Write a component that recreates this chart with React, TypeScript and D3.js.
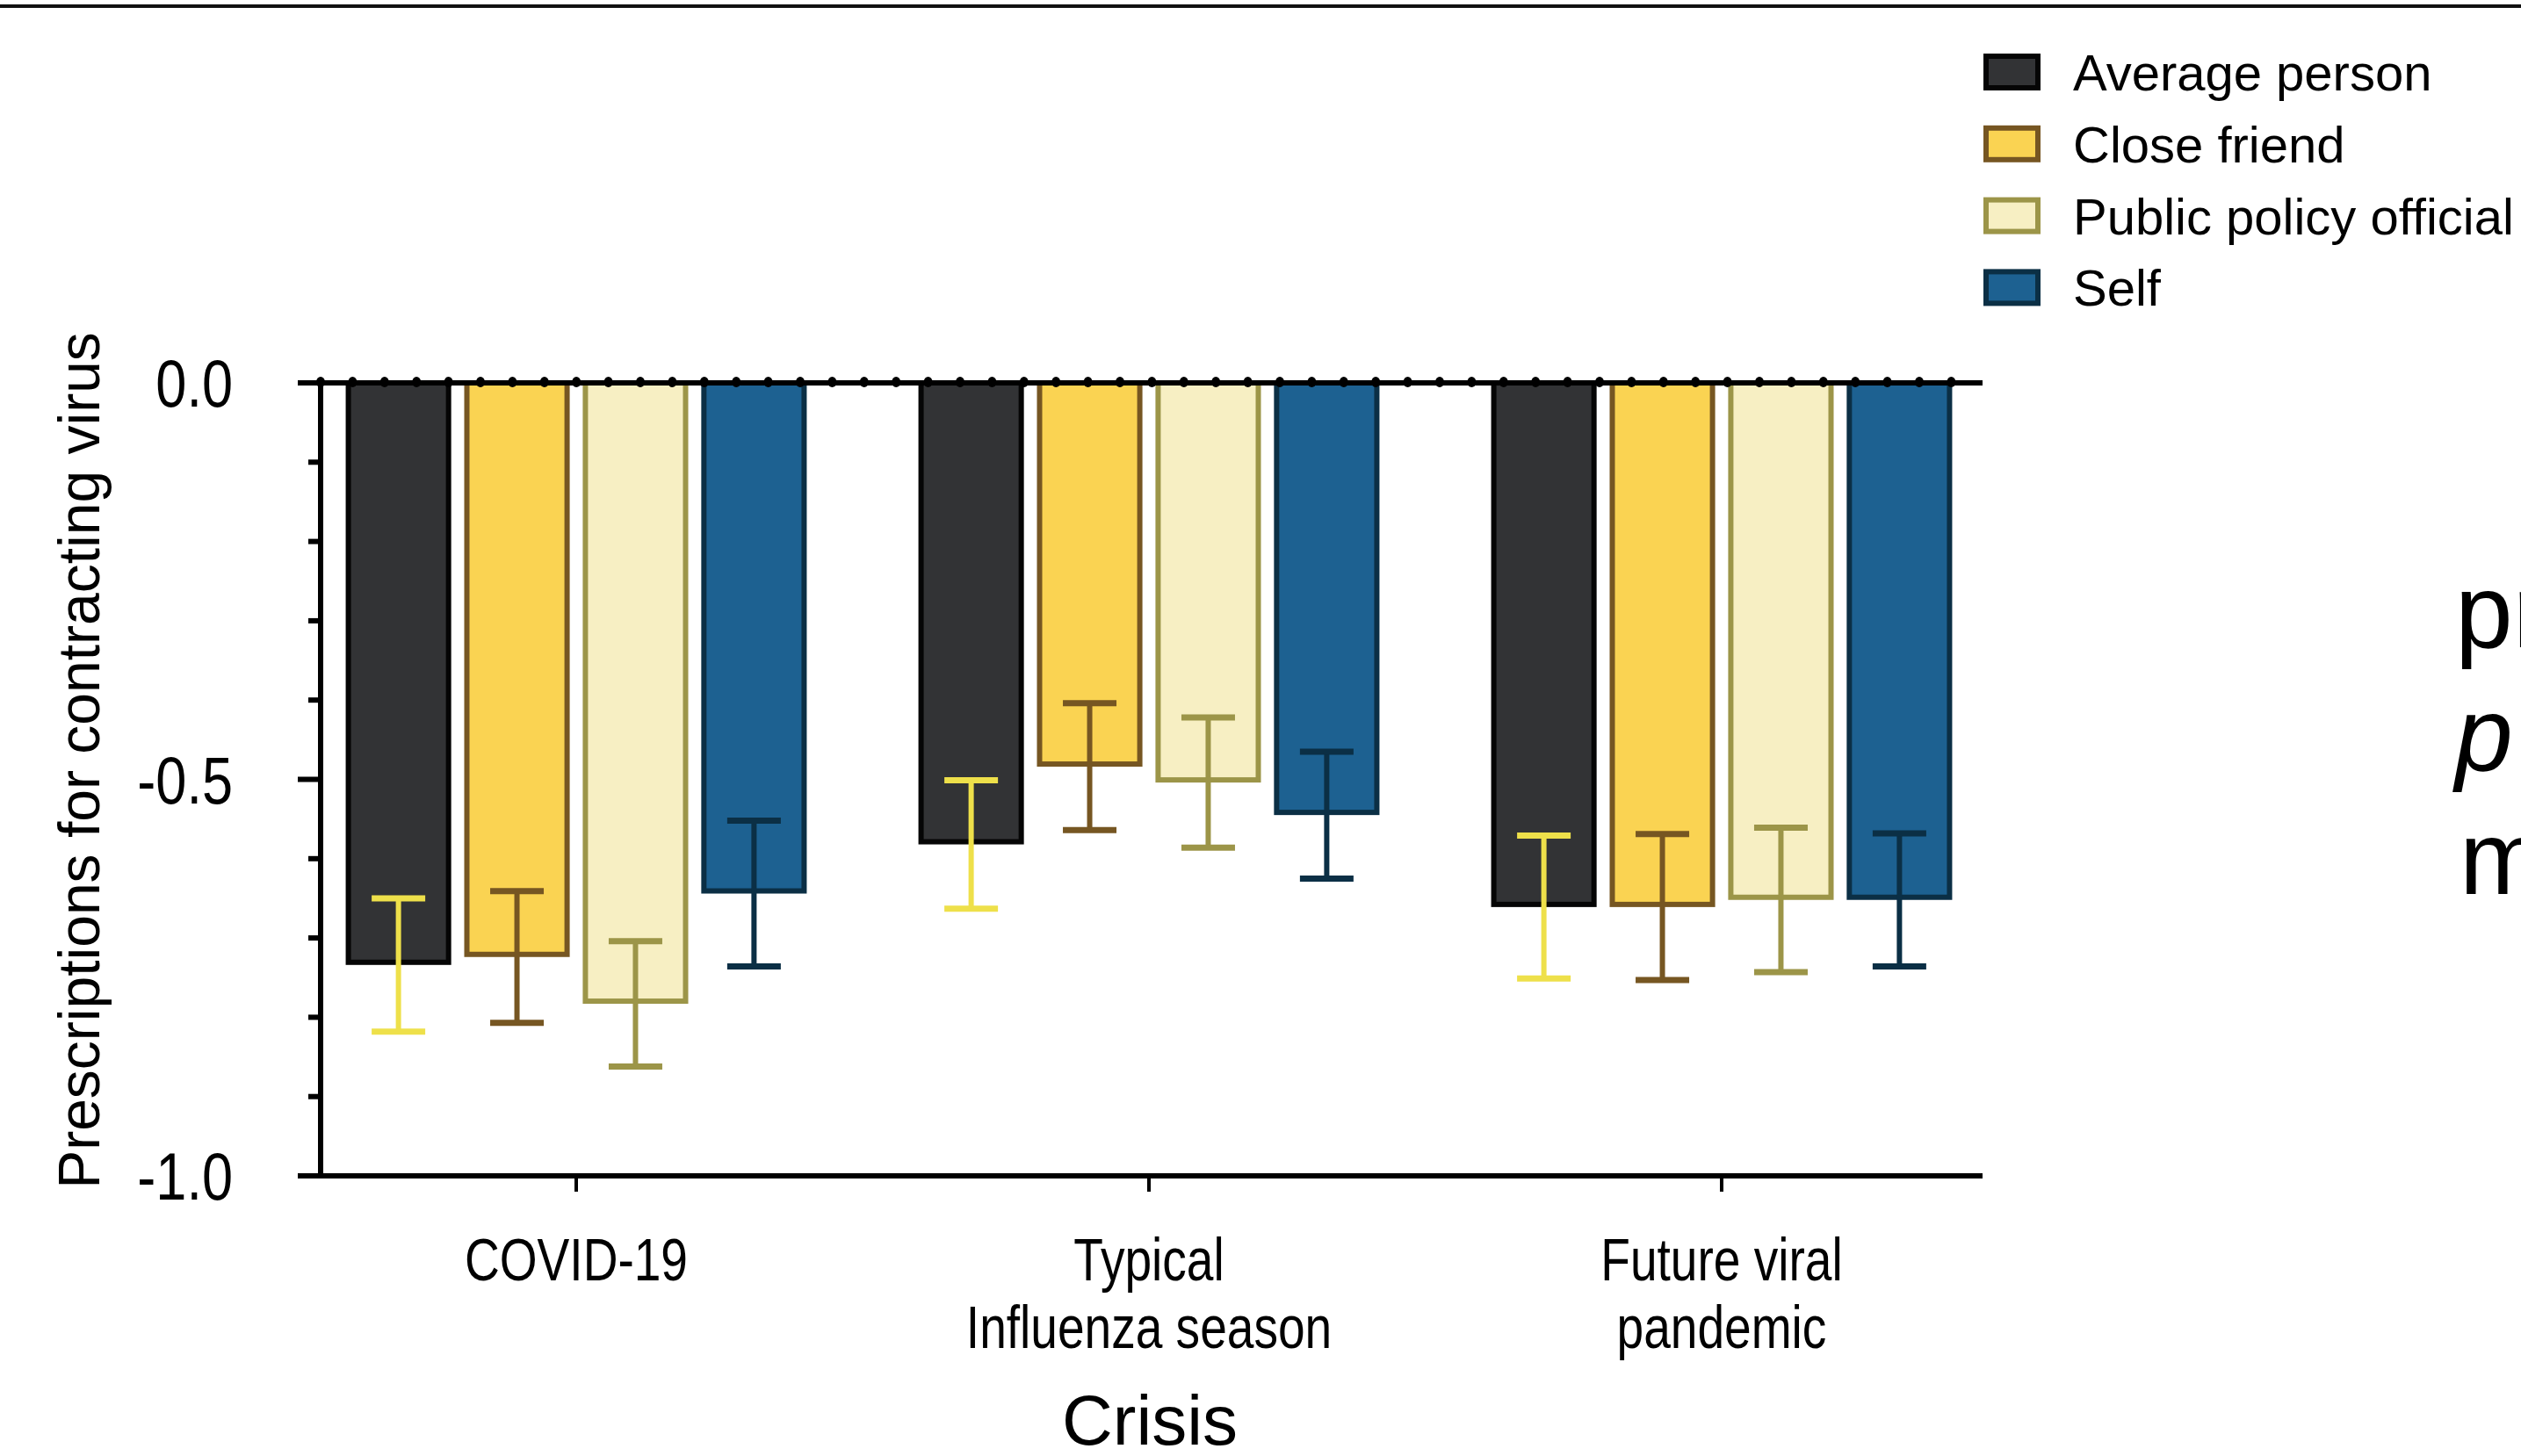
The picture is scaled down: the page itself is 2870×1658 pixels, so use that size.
import React from 'react';
import * as d3 from 'd3';

const W = 2870;
const H = 1658;

// crisis categories (x axis)
const categories = ['COVID-19', 'Typical|Influenza season', 'Future viral|pandemic'];
const seriesNames = ['Average person', 'Close friend', 'Public policy official', 'Self'];

// means per crisis, one array per target
const averagePerson = [-0.734, -0.582, -0.661];
const closeFriend = [-0.724, -0.484, -0.661];
const publicOfficial = [-0.783, -0.504, -0.652];
const self = [-0.644, -0.545, -0.652];

// error bar half-lengths
const averagePersonErr = [0.084, 0.081, 0.09];
const closeFriendErr = [0.083, 0.08, 0.092];
const publicOfficialErr = [0.079, 0.082, 0.091];
const selfErr = [0.092, 0.08, 0.084];

const yTickValues = [0, -0.5, -1.0];
const yTickLabels = ['0.0', '-0.5', '-1.0'];
const yMinorValues = [-0.1, -0.2, -0.3, -0.4, -0.6, -0.7, -0.8, -0.9];

const fills = ['#323335', '#FAD352', '#F7EFC3', '#1D6191'];
const strokes = ['#050505', '#765622', '#9C9548', '#0B2F45'];
const errColors = ['#EEE04A', '#765622', '#9C9548', '#0B2F45'];

const FONT = '"Liberation Sans", Arial, Helvetica, sans-serif';

const means = [averagePerson, closeFriend, publicOfficial, self];
const errs = [averagePersonErr, closeFriendErr, publicOfficialErr, selfErr];

const axisX = 365;
const axisLeft = 339;
const axisRight = 2257;
const lw = 6;

const App = () => {
  const y = d3.scaleLinear().domain([-1, 0]).range([1339, 436]);
  const x0 = d3.scaleBand().domain(categories).range([330, 2286]).paddingInner(0.195).paddingOuter(0.0975);
  const x1 = d3.scaleBand().domain(seriesNames).range([0, x0.bandwidth()]).paddingInner(0.11);
  const bw = x1.bandwidth();
  const dots = d3.range(axisX, 2240, 36.4);
  const capW = 61;

  return (
    <svg width={W} height={H} style={{ position: 'fixed', left: 0, top: 0, background: '#fff' }} fontFamily={FONT}>
      <rect width={W} height={H} fill="#fff" />
      {/* panel border at top */}
      <line x1={0} x2={W} y1={7} y2={7} stroke="#111" strokeWidth={4} />

      {/* bars */}
      {categories.map((c, ci) =>
        seriesNames.map((s, si) => {
          const v = means[si][ci];
          const bx = (x0(c) as number) + (x1(s) as number);
          return (
            <rect key={c + s} x={bx + lw / 2} y={y(0)} width={bw - lw} height={y(v) - y(0) - lw / 2}
              fill={fills[si]} stroke={strokes[si]} strokeWidth={lw} />
          );
        })
      )}

      {/* error bars */}
      {categories.map((c, ci) =>
        seriesNames.map((s, si) => {
          const v = means[si][ci];
          const e = errs[si][ci];
          const cx = (x0(c) as number) + (x1(s) as number) + bw / 2;
          const top = y(v + e);
          const bot = y(v - e);
          return (
            <g key={'e' + c + s} stroke={errColors[si]}>
              <line x1={cx} x2={cx} y1={top} y2={bot} strokeWidth={6} />
              <line x1={cx - capW / 2} x2={cx + capW / 2} y1={top} y2={top} strokeWidth={7} />
              <line x1={cx - capW / 2} x2={cx + capW / 2} y1={bot} y2={bot} strokeWidth={7} />
            </g>
          );
        })
      )}

      {/* zero line with dots */}
      <line x1={axisLeft} x2={axisRight} y1={y(0)} y2={y(0)} stroke="#000" strokeWidth={lw} />
      {dots.map((d, i) => (
        <ellipse key={'d' + i} cx={d} cy={y(0) - 1} rx={5} ry={6} fill="#000" />
      ))}

      {/* y axis */}
      <line x1={axisX} x2={axisX} y1={y(0) - lw / 2} y2={y(-1) + lw / 2} stroke="#000" strokeWidth={lw} />
      {yTickValues.map((t) => (
        <line key={'t' + t} x1={axisLeft} x2={axisX} y1={y(t)} y2={y(t)} stroke="#000" strokeWidth={lw} />
      ))}
      {yMinorValues.map((t) => (
        <line key={'m' + t} x1={351} x2={axisX} y1={y(t)} y2={y(t)} stroke="#000" strokeWidth={lw} />
      ))}
      {yTickLabels.map((lab, i) => (
        <text key={'l' + lab} transform={`translate(265,${y(yTickValues[i]) + 27}) scale(0.83,1)`} textAnchor="end" fontSize={76} fill="#000">
          {lab}
        </text>
      ))}
      <text transform="translate(113,866) rotate(-90)" textAnchor="middle" fontSize={66} fill="#000">
        Prescriptions for contracting virus
      </text>

      {/* x axis */}
      <line x1={axisLeft} x2={axisRight} y1={y(-1)} y2={y(-1)} stroke="#000" strokeWidth={lw} />
      {categories.map((c) => {
        const cx = (x0(c) as number) + x0.bandwidth() / 2;
        return (
          <g key={'x' + c}>
            <line x1={cx} x2={cx} y1={y(-1)} y2={y(-1) + 18} stroke="#000" strokeWidth={4} />
            {c.split('|').map((ln, li) => (
              <text key={ln} transform={`translate(${cx},${1458 + li * 77}) scale(0.81,1)`} textAnchor="middle" fontSize={68} fill="#000">
                {ln}
              </text>
            ))}
          </g>
        );
      })}
      <text x={1309} y={1645} textAnchor="middle" fontSize={80} fill="#000">Crisis</text>

      {/* legend */}
      {seriesNames.map((s, i) => (
        <g key={'lg' + s} transform={`translate(0,${i * 81.8})`}>
          <rect x={2261} y={64} width={59} height={36} fill={fills[i]} stroke={strokes[i]} strokeWidth={6} />
          <text x={2360} y={103} fontSize={58} fill="#000">{s}</text>
        </g>
      ))}

      {/* clipped text from the neighbouring panel */}
      <text x={2795} y={737} fontSize={118} fill="#000">pr</text>
      <text x={2795} y={877} fontSize={118} fontStyle="italic" fill="#000">p</text>
      <text x={2800} y={1018} fontSize={118} fill="#000">m</text>
    </svg>
  );
};

export default App;
